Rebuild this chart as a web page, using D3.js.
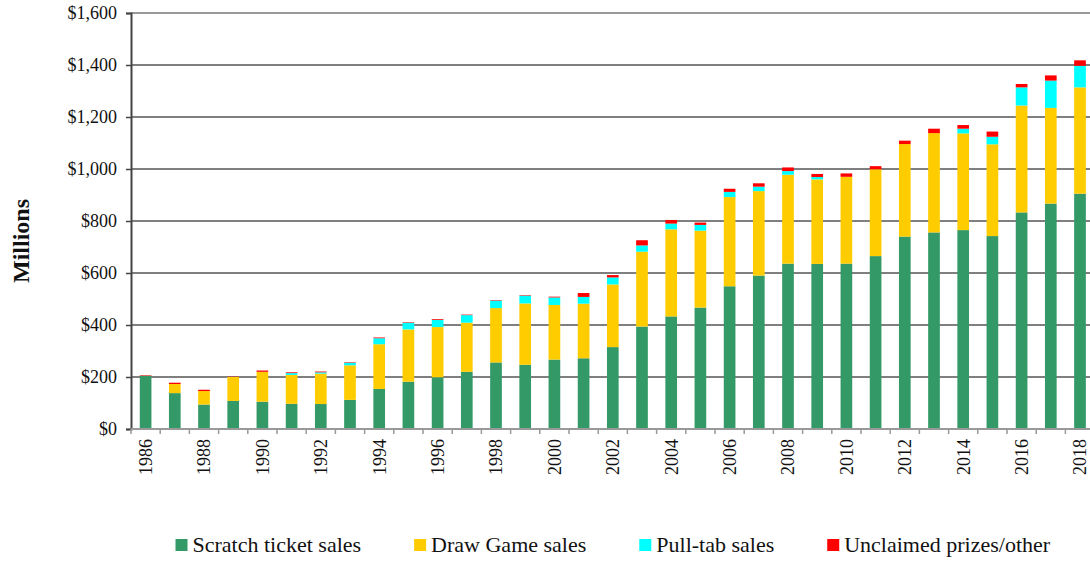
<!DOCTYPE html>
<html>
<head>
<meta charset="utf-8">
<script src="https://cdn.jsdelivr.net/npm/d3@7"></script>
<style>
  body { margin: 0; background: #fff; overflow: hidden; }
  svg { display: block; font-family: "Liberation Serif", "Times New Roman", serif; }
  svg text { font-family: "Liberation Serif", "Times New Roman", serif; }
</style>
</head>
<body>
<svg class="d3" width="1090" height="561"></svg>
<script>
// chart data (millions of dollars)
const years = d3.range(1986, 2019).map(String);
const scratchSales = [205, 138, 94, 108, 105, 97, 96, 112, 154, 182, 199, 220, 256, 247, 267, 272, 315,
  394, 433, 467, 549, 590, 636, 635, 636, 665, 740, 756, 765, 742, 833, 867, 905];
const drawSales = [0, 35, 52, 92, 115, 111, 117, 133, 172, 201, 193, 189, 209, 236, 210, 210, 241,
  288, 335, 296, 343, 325, 342, 325, 334, 334, 356, 382, 372, 353, 411, 368, 409];
const pulltabSales = [0, 0, 0, 0, 0, 7, 5, 10, 23, 26, 28, 29, 29, 30, 29, 26, 27,
  24, 22, 22, 20, 17, 14, 9, 0, 0, 0, 0, 18, 29, 70, 105, 83];
const unclaimed = [2, 5, 5, 1, 5, 3, 3, 2, 3, 2, 3, 2, 2, 2, 3, 15, 9,
  20, 14, 9, 12, 13, 14, 12, 13, 12, 13, 17, 14, 20, 13, 20, 21];
const yTicks = [0, 200, 400, 600, 800, 1000, 1200, 1400, 1600];

const seriesNames = ["Scratch ticket sales", "Draw Game sales", "Pull-tab sales", "Unclaimed prizes/other"];
const seriesKeys = ["scratch", "draw", "pulltab", "other"];
const colors = ["#339966", "#ffcc00", "#00ffff", "#ff0000"];

// build rows for the stack layout
const rows = years.map((y, i) => ({
  year: y,
  scratch: scratchSales[i],
  draw: drawSales[i],
  pulltab: pulltabSales[i],
  other: unclaimed[i]
}));

const svg = d3.select("svg.d3"),
      margin = {top: 13, left: 131},
      width = 963.6,
      height = 416;

const x = d3.scaleBand()
  .domain(years)
  .range([margin.left, margin.left + width])
  .paddingInner(0.6)
  .paddingOuter(0.3);

const y = d3.scaleLinear()
  .domain([0, 1600])
  .range([margin.top + height, margin.top]);

// horizontal gridlines
svg.append("g")
  .selectAll("line")
  .data(yTicks.filter(d => d > 0 && d < 1600))
  .enter().append("line")
  .attr("x1", margin.left)
  .attr("x2", margin.left + width)
  .attr("y1", d => y(d))
  .attr("y2", d => y(d))
  .style("stroke", "#000")
  .style("stroke-width", 1.2);

// top border of plot
svg.append("line")
  .attr("x1", margin.left)
  .attr("x2", margin.left + width)
  .attr("y1", y(1600))
  .attr("y2", y(1600))
  .style("stroke", "#999")
  .style("stroke-width", 2);

// stacked bars
const stack = d3.stack().keys(seriesKeys);
const layers = stack(rows);

svg.append("g")
  .selectAll("g")
  .data(layers)
  .enter().append("g")
  .attr("fill", (d, i) => colors[i])
  .selectAll("rect")
  .data(d => d.filter(s => s[1] - s[0] > 0))
  .enter().append("rect")
  .attr("x", d => x(d.data.year))
  .attr("width", x.bandwidth())
  .attr("y", d => y(d[1]))
  .attr("height", d => y(d[0]) - y(d[1]));

// y axis
const yAxis = svg.append("g")
  .attr("transform", "translate(" + margin.left + ",0)")
  .call(d3.axisLeft(y).tickValues(yTicks).tickSize(5).tickPadding(9)
    .tickFormat(d => "$" + d3.format(",")(d)));
yAxis.attr("font-family", null).attr("font-size", null);
yAxis.select(".domain").style("stroke", "#444").style("stroke-width", 2);
yAxis.selectAll(".tick line").style("stroke", "#444").style("stroke-width", 1.5);
yAxis.selectAll("text")
  .style("font-size", "18px")
  .style("fill", "#111");

// x axis: ticks between categories, labels on even years
const xAxis = svg.append("g");
xAxis.append("line")
  .attr("x1", margin.left)
  .attr("x2", margin.left + width)
  .attr("y1", y(0))
  .attr("y2", y(0))
  .style("stroke", "#999")
  .style("stroke-width", 2);

xAxis.selectAll(".xtick")
  .data(years)
  .enter().append("line")
  .attr("class", "xtick")
  .attr("x1", d => x(d) - x.step() * x.paddingInner() / 2)
  .attr("x2", d => x(d) - x.step() * x.paddingInner() / 2)
  .attr("y1", y(0))
  .attr("y2", y(0) + 5)
  .style("stroke", "#999")
  .style("stroke-width", 1.5);

xAxis.selectAll(".xlabel")
  .data(years.filter(d => +d % 2 === 0))
  .enter().append("text")
  .attr("class", "xlabel")
  .attr("transform", d => "translate(" + (x(d) + x.bandwidth() / 2) + "," + (y(0) + 10) + ") rotate(-90)")
  .attr("text-anchor", "end")
  .attr("dy", "0.35em")
  .style("font-size", "18px")
  .style("fill", "#111")
  .text(d => d);

// y axis title
svg.append("text")
  .attr("transform", "translate(28.5,241) rotate(-90)")
  .attr("text-anchor", "middle")
  .style("font-size", "24px")
  .style("font-weight", "bold")
  .style("fill", "#111")
  .text("Millions");

// legend, centred under the plot
const legend = svg.append("g");
const items = legend.selectAll("g")
  .data(seriesNames)
  .enter().append("g");

items.append("rect")
  .attr("width", 12)
  .attr("height", 12)
  .attr("y", 539)
  .attr("fill", (d, i) => colors[i]);

items.append("text")
  .attr("x", 17)
  .attr("y", 551.5)
  .style("font-size", "22px")
  .style("fill", "#111")
  .text(d => d);

const gap = 53;
let offset = 0;
items.each(function() {
  const g = d3.select(this);
  g.attr("transform", "translate(" + offset + ",0)");
  offset += 17 + g.select("text").node().getComputedTextLength() + gap;
});
const legendWidth = offset - gap;
legend.attr("transform", "translate(" + (margin.left + width / 2 - legendWidth / 2) + ",0)");
</script>
</body>
</html>
